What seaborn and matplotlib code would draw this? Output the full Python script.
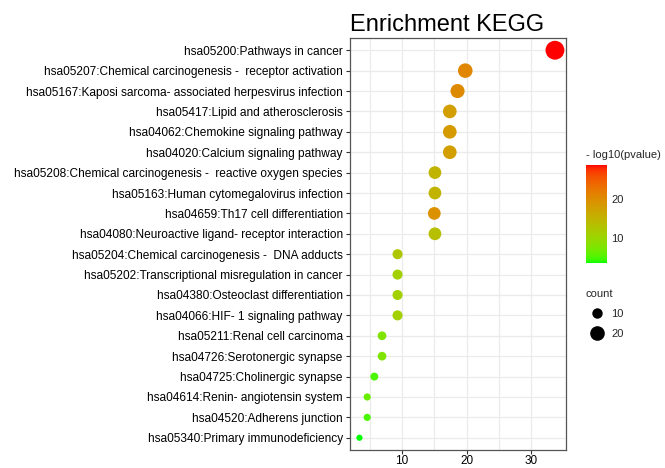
import numpy as np
import pandas as pd
import matplotlib
matplotlib.use("Agg")
import matplotlib.pyplot as plt
from matplotlib.colors import ListedColormap, Normalize
from matplotlib.cm import ScalarMappable
from matplotlib.lines import Line2D
import seaborn as sns

# data (top to bottom)
terms = [
    "hsa05200:Pathways in cancer",
    "hsa05207:Chemical carcinogenesis -  receptor activation",
    "hsa05167:Kaposi sarcoma- associated herpesvirus infection",
    "hsa05417:Lipid and atherosclerosis",
    "hsa04062:Chemokine signaling pathway",
    "hsa04020:Calcium signaling pathway",
    "hsa05208:Chemical carcinogenesis -  reactive oxygen species",
    "hsa05163:Human cytomegalovirus infection",
    "hsa04659:Th17 cell differentiation",
    "hsa04080:Neuroactive ligand- receptor interaction",
    "hsa05204:Chemical carcinogenesis -  DNA adducts",
    "hsa05202:Transcriptional misregulation in cancer",
    "hsa04380:Osteoclast differentiation",
    "hsa04066:HIF- 1 signaling pathway",
    "hsa05211:Renal cell carcinoma",
    "hsa04726:Serotonergic synapse",
    "hsa04725:Cholinergic synapse",
    "hsa04614:Renin- angiotensin system",
    "hsa04520:Adherens junction",
    "hsa05340:Primary immunodeficiency",
]
count = [33.7, 19.8, 18.6, 17.4, 17.4, 17.4, 15.1, 15.1, 15.0, 15.1,
         9.3, 9.3, 9.3, 9.3, 6.9, 6.9, 5.7, 4.6, 4.6, 3.4]
logp = [28.8, 20.8, 20.3, 18.0, 18.5, 18.0, 15.0, 15.0, 19.5, 13.5,
        12.5, 11.0, 11.0, 11.0, 8.0, 8.0, 5.0, 6.5, 5.0, 3.7]
cbar_ticks = [10, 20]
size_ticks = [10, 20]

df = pd.DataFrame({"term": terms, "count": count, "logp": logp})


# green -> red gradient interpolated in Lab space (like ggplot's scale_colour_gradient)
M = np.array([[0.4124, 0.3576, 0.1805], [0.2126, 0.7152, 0.0722], [0.0193, 0.1192, 0.9505]])
WHITE = np.array([0.95047, 1.0, 1.08883])

def to_lab(rgb):
    c = np.asarray(rgb, float)
    lin = np.where(c <= 0.04045, c / 12.92, ((c + 0.055) / 1.055) ** 2.4)
    xyz = M @ lin / WHITE
    f = np.where(xyz > (6 / 29) ** 3, np.cbrt(xyz), xyz / (3 * (6 / 29) ** 2) + 4 / 29)
    return np.array([116 * f[1] - 16, 500 * (f[0] - f[1]), 200 * (f[1] - f[2])])

def from_lab(lab):
    L, a, b = lab
    fy = (L + 16) / 116
    f = np.array([fy + a / 500, fy, fy - b / 200])
    xyz = np.where(f > 6 / 29, f ** 3, 3 * (6 / 29) ** 2 * (f - 4 / 29)) * WHITE
    lin = np.clip(np.linalg.solve(M, xyz), 0, 1)
    return np.clip(np.where(lin <= 0.0031308, lin * 12.92, 1.055 * lin ** (1 / 2.4) - 0.055), 0, 1)

lo, hi = to_lab([0, 1, 0]), to_lab([1, 0, 0])
cmap = ListedColormap([from_lab(lo + t * (hi - lo)) for t in np.linspace(0, 1, 256)])
norm = Normalize(vmin=min(logp), vmax=max(logp))

# point sizes: diameter linear in sqrt(count), as ggplot's area scale does
def marker_area(v):
    d_px = 0.3 + 3.2 * np.sqrt(v)
    return (d_px * 0.72) ** 2

sizes = {v: marker_area(v) for v in df["count"].unique()}

sns.set_theme(style="white")
plt.rcParams["font.family"] = ["Liberation Sans", "DejaVu Sans"]

fig = plt.figure(figsize=(6.65, 4.68), dpi=100)
ax = fig.add_axes([0.526, 1 - 450 / 468, 0.325, (450 - 38) / 468])

sns.scatterplot(data=df, x="count", y="term", hue="logp", palette=cmap, hue_norm=norm,
                size="count", sizes=sizes, linewidth=0, legend=False, ax=ax, zorder=3)

ax.set_ylim(len(terms) - 0.4, -0.6)
ax.set_xlim(1.9, 35.4)
ax.set_xticks([10, 20, 30])
ax.set_xticks([5, 15, 25], minor=True)
ax.grid(True, which="major", color="#ebebeb", lw=0.9)
ax.grid(True, which="minor", axis="x", color="#ebebeb", lw=0.9)
ax.set_axisbelow(True)
for s in ax.spines.values():
    s.set_color("#555555")
    s.set_linewidth(0.9)
ax.tick_params(axis="both", which="major", length=3, width=0.8, color="#333333",
               labelsize=8.6, labelcolor="black", pad=2, left=True, bottom=True)
ax.tick_params(axis="x", labelsize=8.5, pad=0.5)
ax.tick_params(which="minor", length=0)
ax.set_xlabel("")
ax.set_ylabel("")
ax.set_title("Enrichment KEGG", loc="left", fontsize=17, pad=5, color="black")

# colour bar
cax = fig.add_axes([586 / 665, 1 - 263 / 468, 21 / 665, 98 / 468])
cb = fig.colorbar(ScalarMappable(norm=norm, cmap=cmap), cax=cax, ticks=cbar_ticks)
cb.outline.set_visible(False)
cax.yaxis.set_ticks_position("both")
cax.tick_params(direction="in", length=4, width=0.8, color="white", labelsize=8,
                labelright=True, labelleft=False, pad=3)
fig.text(586 / 665, 1 - 155 / 468, "- log10(pvalue)", fontsize=8, va="center", ha="left")

# size legend
handles = [Line2D([], [], marker="o", ls="", color="black", markeredgewidth=0,
                  markersize=np.sqrt(marker_area(v))) for v in size_ticks]
fig.legend(handles, [str(v) for v in size_ticks], title="count", loc="upper left",
           bbox_to_anchor=(576 / 665, 1 - 279 / 468), frameon=False, fontsize=8,
           title_fontsize=8, alignment="left", labelspacing=0.9, handletextpad=0.3)

fig.savefig("out.png", dpi=100)
